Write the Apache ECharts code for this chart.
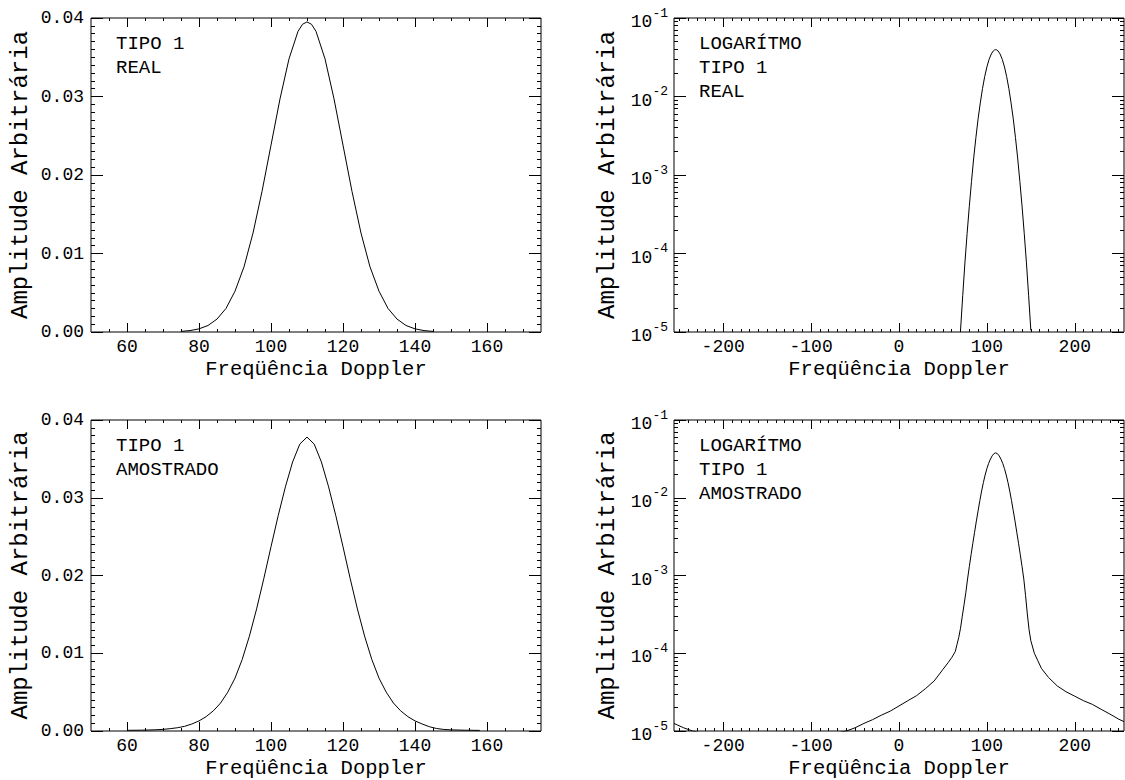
<!DOCTYPE html>
<html lang="pt">
<head>
    <meta charset="utf-8">
    <title>Espectro Doppler - Tipo 1</title>
    <script src="https://cdn.jsdelivr.net/npm/echarts@6/dist/echarts.min.js"></script>
    <style>
        html, body {
            margin: 0;
            padding: 0;
            background-color: #ffffff;
        }

        #main {
            position: relative;
            width: 1125px;
            height: 780px;
        }

        .painel {
            position: absolute;
            left: 0;
            top: 0;
            width: 1125px;
            height: 780px;
        }
    </style>
</head>
<body>
<div id="main">
    <div class="painel" id="p0"></div>
    <div class="painel" id="p1"></div>
    <div class="painel" id="p2"></div>
    <div class="painel" id="p3"></div>
</div>
<script>

    // espectro real (tipo 1)
    var realFreq = [70, 72.5, 75, 77.5, 80, 82.5, 85, 87.5, 90, 92.5, 95, 97.5, 100, 102.5, 105, 107.5, 108.75,
        110, 111.25, 112.5, 115, 117.5, 120, 122.5, 125, 127.5, 130, 132.5, 135, 137.5, 140, 142.5, 145, 147.5, 150];
    var realAmp = [1.05e-5, 2.9e-5, 7.6e-5, 1.8e-4, 4.0e-4, 8.3e-4, 1.65e-3, 3.0e-3, 5.2e-3, 8.3e-3, 0.0126, 0.0179,
        0.0238, 0.0297, 0.0348, 0.0383, 0.0392, 0.0395, 0.0392, 0.0383, 0.0348, 0.0297, 0.0238, 0.0179, 0.0126, 8.3e-3,
        5.2e-3, 3.0e-3, 1.65e-3, 8.3e-4, 4.0e-4, 1.8e-4, 7.6e-5, 2.9e-5, 1.05e-5];

    // espectro amostrado (tipo 1)
    var sampFreq = [-256, -245, -235, -220, -180, -140, -100, -70, -60, -50, -40, -30, -20, -10, 0, 10, 20, 30, 40,
        50, 56, 60, 64, 66, 68, 70, 72, 74, 76, 78, 80, 82, 84, 86, 88, 90, 92, 94, 96, 98, 100, 102, 104, 106,
        108, 110, 112, 114, 116, 118, 120, 122, 124, 126, 128, 130, 132, 134, 136, 138, 140, 142, 144, 146, 148,
        150, 154, 158, 162, 170, 180, 190, 200, 210, 220, 230, 240, 250, 256];
    var sampAmp = [1.25e-5, 1.1e-5, 1.0e-5, 9.2e-6, 8.5e-6, 8.5e-6, 8.8e-6, 9.5e-6, 1.0e-5, 1.1e-5, 1.25e-5, 1.4e-5,
        1.6e-5, 1.8e-5, 2.1e-5, 2.45e-5, 2.85e-5, 3.5e-5, 4.4e-5,
        6.2e-5, 7.6e-5, 8.8e-5, 1.05e-4, 1.3e-4, 1.6e-4, 2.1e-4, 3.0e-4, 4.2e-4, 6.0e-4, 9.0e-4, 1.3e-3, 1.85e-3,
        2.6e-3, 3.6e-3, 5.0e-3, 6.8e-3, 9.2e-3, 0.0122, 0.0157, 0.0196, 0.0237, 0.0277, 0.0314, 0.0346,
        0.0369, 0.0378, 0.0369, 0.0346, 0.0314, 0.0277, 0.0237, 0.0196, 0.0157, 0.0122, 9.2e-3, 6.8e-3,
        5.0e-3, 3.6e-3, 2.6e-3, 1.85e-3, 1.3e-3, 9.0e-4, 5.5e-4, 3.2e-4, 2.0e-4,
        1.45e-4, 1.0e-4, 8.0e-5, 6.4e-5, 4.9e-5, 3.8e-5, 3.2e-5, 2.8e-5, 2.45e-5, 2.2e-5, 1.9e-5, 1.65e-5, 1.42e-5, 1.32e-5];

    // marcas dos eixos
    var linTicks = [60, 80, 100, 120, 140, 160];
    var wideTicks = [-200, -100, 0, 100, 200];

    var FONT = '"Liberation Mono", "Courier New", monospace';

    function pairs(xs, ys, lo, hi) {
        var out = [];
        for (var i = 0; i < xs.length; i++) {
            if (xs[i] >= lo && xs[i] <= hi) out.push([xs[i], ys[i]]);
        }
        return out;
    }

    function minorTicks(lo, hi, step, majors) {
        var out = [];
        for (var v = lo; v <= hi; v += step) {
            if (majors.indexOf(v) < 0) out.push(v);
        }
        return out;
    }

    function xAxis(min, max, pos, vals, len, withLabel) {
        var ax = {
            type: 'value', gridIndex: 0, min: min, max: max, position: pos,
            axisLine: {show: false, onZero: false},
            splitLine: {show: false},
            axisTick: {show: true, inside: true, length: len, customValues: vals, lineStyle: {color: '#000', width: 1}},
            axisLabel: {show: false}
        };
        if (withLabel) {
            ax.axisLabel = {show: true, customValues: vals, margin: 6, color: '#000', fontFamily: FONT, fontSize: 18};
            ax.name = 'Freqüência Doppler';
            ax.nameLocation = 'middle';
            ax.nameGap = 27;
            ax.nameTextStyle = {color: '#000', fontFamily: FONT, fontSize: 20.5};
        }
        return ax;
    }

    function yAxis(isLog, pos, nameGap) {
        var ax = {
            gridIndex: 0, position: pos,
            axisLine: {show: false, onZero: false},
            splitLine: {show: false},
            axisTick: {show: true, inside: true, length: 12, lineStyle: {color: '#000', width: 1}},
            minorTick: {show: true, length: 4, splitNumber: isLog ? 9 : 10, lineStyle: {color: '#000', width: 1}},
            axisLabel: {show: false}
        };
        if (isLog) {
            ax.type = 'log';
            ax.logBase = 10;
            ax.min = 1e-5;
            ax.max = 0.1;
        } else {
            ax.type = 'value';
            ax.min = 0;
            ax.max = 0.04;
            ax.interval = 0.01;
        }
        if (pos === 'left') {
            ax.axisLabel = isLog ? {
                show: true, margin: 6, color: '#000', fontFamily: FONT,
                formatter: function (v) {
                    return '{b|10}{s|' + Math.round(Math.log10(v)) + '}';
                },
                rich: {
                    b: {fontFamily: FONT, fontSize: 18, color: '#000', padding: [8, 0, 0, 0]},
                    s: {fontFamily: FONT, fontSize: 13, color: '#000', padding: [0, 0, 10, 0]}
                }
            } : {
                show: true, margin: 7, color: '#000', fontFamily: FONT, fontSize: 18,
                formatter: function (v) {
                    return v.toFixed(2);
                }
            };
            ax.name = 'Amplitude Arbitrária';
            ax.nameLocation = 'middle';
            ax.nameGap = nameGap;
            ax.nameTextStyle = {color: '#000', fontFamily: FONT, fontSize: 24};
        }
        return ax;
    }

    // um painel = um gráfico independente, todos sobrepostos na mesma área
    function panel(p) {
        var wide = p.log;
        var min = wide ? -256 : 50, max = wide ? 256 : 175;
        var majors = wide ? wideTicks : linTicks;
        var minors = wide ? minorTicks(-250, 250, 10, wideTicks) : minorTicks(55, 170, 5, linTicks);
        return {
            animation: false,
            backgroundColor: 'transparent',
            grid: [{left: p.left, top: p.top, width: 450, height: p.height, show: true, borderColor: '#000', borderWidth: 1}],
            xAxis: [
                xAxis(min, max, 'bottom', majors, 9, true),
                xAxis(min, max, 'bottom', minors, 3, false),
                xAxis(min, max, 'top', majors, 9, false),
                xAxis(min, max, 'top', minors, 3, false)
            ],
            yAxis: [
                yAxis(p.log, 'left', p.log ? 55 : 59),
                yAxis(p.log, 'right', 0)
            ],
            series: [{
                type: 'line',
                xAxisIndex: 0,
                yAxisIndex: 0,
                data: p.data,
                showSymbol: false,
                clip: true,
                lineStyle: {color: '#000', width: 1},
                itemStyle: {color: '#000'}
            }],
            graphic: [{
                type: 'text', left: p.left + 25, top: p.top + 14,
                style: {text: p.note, fill: '#000', fontFamily: FONT, fontSize: 19, lineHeight: 24}
            }]
        };
    }

    var panels = [
        {left: 91, top: 18, height: 314, log: false, data: pairs(realFreq, realAmp, 75, 145), note: 'TIPO 1\nREAL'},
        {left: 674, top: 18, height: 314, log: true, data: pairs(realFreq, realAmp, -256, 256), note: 'LOGARÍTMO\nTIPO 1\nREAL'},
        {left: 91, top: 420, height: 312, log: false, data: pairs(sampFreq, sampAmp, 60, 160), note: 'TIPO 1\nAMOSTRADO'},
        {left: 674, top: 420, height: 312, log: true, data: pairs(sampFreq, sampAmp, -256, 256), note: 'LOGARÍTMO\nTIPO 1\nAMOSTRADO'}
    ];

    panels.forEach(function (p, i) {
        var chart = echarts.init(document.getElementById('p' + i), null, {renderer: 'svg'});
        chart.setOption(panel(p));
    });

</script>
</body>
</html>
